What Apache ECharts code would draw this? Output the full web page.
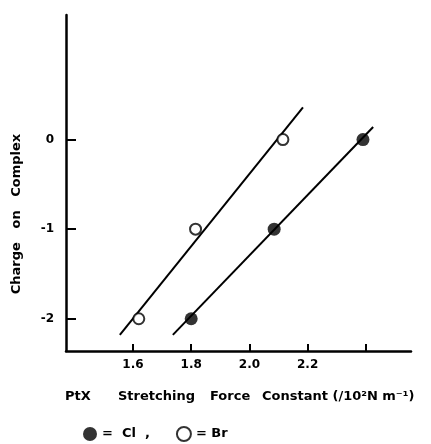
<!DOCTYPE html>
<html><head><meta charset="utf-8">
<script src="https://cdn.jsdelivr.net/npm/echarts@6/dist/echarts.min.js"></script>
<style>html,body{margin:0;padding:0;background:#fff}#c{width:431px;height:444px}</style>
</head><body><div id="c"></div>
<script>
// Data
const clPoints = [[1.80, -2], [2.085, -1], [2.39, 0]];
const brPoints = [[1.62, -2], [1.815, -1], [2.115, 0]];
const clLine = [[1.737, -2.18], [2.425, 0.14]];
const brLine = [[1.555, -2.18], [2.184, 0.36]];
const xTicks = [1.6, 1.8, 2.0, 2.2, 2.4];
const xTickLabels = [1.6, 1.8, 2.0, 2.2];
const yTicks = [-2, -1, 0];
const xTitleParts = ['PtX', 'Stretching', 'Force', 'Constant (/10²N m⁻¹)'];
const yTitle = 'Charge   on   Complex';

const FONT = 'DejaVu Sans';
const TFONT = 'bold 13px "DejaVu Sans"';
const xTitleLeft = [65, 118, 210, 262];
const chart = echarts.init(document.getElementById('c'), null, {renderer: 'canvas'});
chart.setOption({
  animation: false,
  backgroundColor: '#fff',
  grid: {left: 66, right: 20, top: 15, bottom: 93},
  xAxis: {
    type: 'value', min: 1.37, max: 2.555,
    axisLine: {show: true, onZero: false, lineStyle: {color: '#000', width: 2.5}},
    axisTick: {show: true, inside: true, length: 7, customValues: xTicks, lineStyle: {color: '#000', width: 2}},
    axisLabel: {customValues: xTickLabels, formatter: v => v.toFixed(1), color: '#000', fontFamily: FONT, fontWeight: 'bold', fontSize: 12, margin: 8},
    splitLine: {show: false}
  },
  yAxis: {
    type: 'value', min: -2.36, max: 1.39,
    axisLine: {show: true, onZero: false, lineStyle: {color: '#000', width: 2.5}},
    axisTick: {show: true, inside: true, length: 10, customValues: yTicks, lineStyle: {color: '#000', width: 2}},
    axisLabel: {customValues: yTicks, formatter: v => String(v), color: '#000', fontFamily: FONT, fontWeight: 'bold', fontSize: 12, margin: 12},
    splitLine: {show: false}
  },
  legend: {
    left: 83, top: 426, padding: 0, itemGap: 26, itemWidth: 14, itemHeight: 14,
    textStyle: {color: '#000', fontFamily: FONT, fontWeight: 'bold', fontSize: 13},
    formatter: n => n === 'Cl' ? '=  Cl  ,' : '= Br',
    data: [{name: 'Cl', icon: 'circle', itemStyle: {color: '#000', borderColor: '#000'}},
           {name: 'Br', icon: 'circle', itemStyle: {color: '#fff', borderColor: '#000', borderWidth: 2}}]
  },
  graphic: xTitleParts.map((t, i) => ({type: 'text', left: xTitleLeft[i], top: 390, style: {text: t, fill: '#000', font: TFONT}}))
    .concat([{type: 'text', x: 17, y: 214, rotation: Math.PI / 2, style: {text: yTitle, fill: '#000', font: TFONT, align: 'center', verticalAlign: 'middle'}}]),
  series: [
    {name: 'ClFit', type: 'line', data: clLine, symbol: 'none', lineStyle: {color: '#000', width: 2}, z: 2},
    {name: 'BrFit', type: 'line', data: brLine, symbol: 'none', lineStyle: {color: '#000', width: 2}, z: 2},
    {name: 'Cl', type: 'scatter', data: clPoints, symbol: 'circle', symbolSize: 13, itemStyle: {color: '#000'}, z: 3},
    {name: 'Br', type: 'scatter', data: brPoints, symbol: 'circle', symbolSize: 11, itemStyle: {color: '#fff', borderColor: '#000', borderWidth: 2}, z: 3}
  ]
});
</script></body></html>
